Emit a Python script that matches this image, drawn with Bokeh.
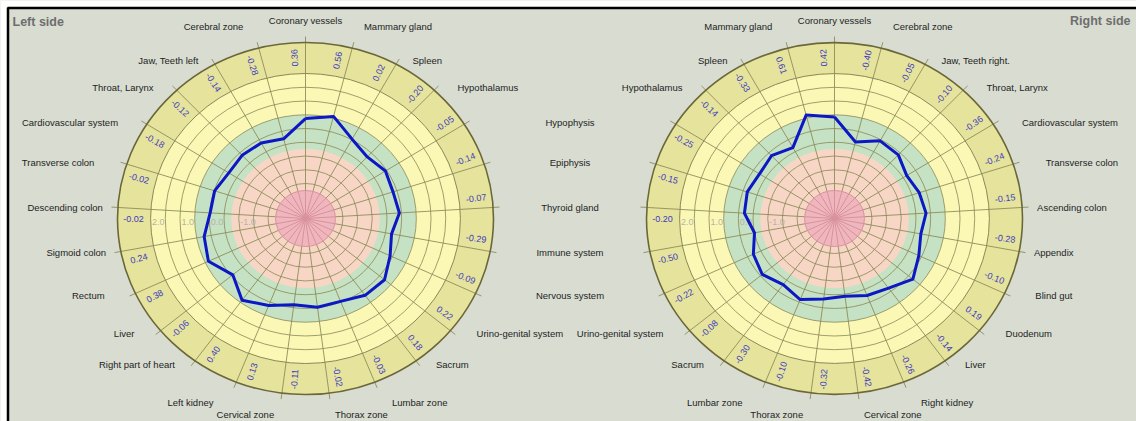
import numpy as np
from bokeh.plotting import figure
from bokeh.models import Range1d
from bokeh.embed import file_html
from bokeh.resources import INLINE
from bokeh.core.properties import value

# ---------------- data ----------------
left_organs = ["Coronary vessels", "Mammary gland", "Spleen", "Hypothalamus", "Hypophysis",
               "Epiphysis", "Thyroid gland", "Immune system", "Nervous system",
               "Urino-genital system", "Sacrum", "Lumbar zone", "Thorax zone", "Cervical zone",
               "Left kidney", "Right part of heart", "Liver", "Rectum", "Sigmoid colon",
               "Descending colon", "Transverse colon", "Cardiovascular system",
               "Throat, Larynx", "Jaw, Teeth left", "Cerebral zone"]
left_values = [0.36, 0.56, 0.02, -0.20, -0.05, -0.14, -0.07, -0.29, -0.09, 0.22, 0.18, -0.03,
               -0.02, -0.11, 0.13, 0.40, -0.06, 0.38, 0.24, -0.02, -0.02, -0.18, -0.12, -0.14,
               -0.28]

right_organs = ["Coronary vessels", "Cerebral zone", "Jaw, Teeth right.", "Throat, Larynx",
                "Cardiovascular system", "Transverse colon", "Ascending colon", "Appendix",
                "Blind gut", "Duodenum", "Liver", "Right kidney", "Cervical zone", "Thorax zone",
                "Lumbar zone", "Sacrum", "Urino-genital system", "Nervous system",
                "Immune system", "Thyroid gland", "Epiphysis", "Hypophysis", "Hypothalamus",
                "Spleen", "Mammary gland"]
right_values = [0.42, -0.40, -0.05, -0.10, -0.36, -0.24, -0.15, -0.28, -0.10, 0.19, -0.14,
                -0.26, -0.42, -0.32, -0.10, -0.30, -0.08, -0.22, -0.50, -0.20, -0.15, -0.25,
                -0.14, -0.33, 0.61]

shared_organs = ["Hypophysis", "Epiphysis", "Thyroid gland", "Immune system", "Nervous system"]
scale_ticks = [2.0, 1.0, 0.0, -1.0]
grid_levels = [-2.0, -1.5, -1.0, -0.5, 0.0, 0.5, 1.0, 1.5]
band_level = 2.0

# ---------------- layout / style ----------------
W, H = 1136, 421
CY = H - 218
CX_L, CX_R = 305, 834
KX = 188.0 / 176.0
R_OUT = 176.0
R_TEXT = 161.0
R_CORE = 28.0
R_SALMON = 69.5


def rv(v):
    return 90.0 + 27.5 * v


BG = "#d8dcd1"
BAND = "#e6e39c"
PALE = "#fbf8b6"
GREEN = "#c6e2c4"
SALMON = "#f8d6c6"
PINK = "#f0b6be"
GRID = "#8a8856"
PINK_GRID = "#d8929c"
BLUE = "#0c18c4"
VAL_COL = "#3c3cc0"
FONT = value("Liberation Sans")

p = figure(width=W, height=H, output_backend="svg", toolbar_location=None, title=None,
           x_range=Range1d(0, W), y_range=Range1d(0, H),
           x_axis_location=None, y_axis_location=None, min_border=0)
p.grid.visible = False
p.background_fill_color = BG
p.border_fill_color = "white"
p.outline_line_color = None

# white page margin and black frame (top / left)
p.quad(left=[0, 0], right=[7, W], bottom=[0, H - 7], top=[H, H], fill_color="white",
       line_color=None)
p.segment(x0=[7, 7.5], y0=[H - 7.5, 0], x1=[W, 7.5], y1=[H - 7.5, H - 7],
          line_color="black", line_width=2.5)


def label_anchor(cx, a):
    s, c = np.sin(a), np.cos(a)
    if abs(s) > 0.9:
        ry = 198.0
        rx = 235.0 if c > 0 else 250.0
    elif abs(s) < 0.25:
        ry, rx = 180.0, 203.0
    else:
        ry, rx = 180.0, 222.0
    if abs(c) < 0.02:
        return cx, CY + ry * s, "center"
    return cx + rx * c, CY + ry * s, ("left" if c > 0 else "right")


def ell(cx, r, **kw):
    p.ellipse(x=cx, y=CY, width=2 * r * KX, height=2 * r, **kw)


def draw_chart(cx, organs, vals):
    n = len(organs)
    step = 360.0 / n
    th = np.radians([90.0 - i * step for i in range(n)])
    r_band = rv(band_level)
    # zones
    for r, col in [(R_OUT, BAND), (r_band, PALE), (rv(0.5), GREEN), (R_SALMON, SALMON),
                   (R_CORE, PINK)]:
        ell(cx, r, fill_color=col, line_color=None)
    # grid circles
    for lv in grid_levels:
        ell(cx, rv(lv), fill_color=None, line_color=GRID, line_width=1, line_alpha=0.8)
    ell(cx, r_band, fill_color=None, line_color=GRID, line_width=1)
    # spokes: olive outside the pink core, pink inside it
    re = R_OUT + 6
    p.segment(x0=list(cx + R_CORE * KX * np.cos(th)), y0=list(CY + R_CORE * np.sin(th)),
              x1=list(cx + re * KX * np.cos(th)), y1=list(CY + re * np.sin(th)),
              line_color=GRID, line_width=1, line_alpha=0.85)
    p.segment(x0=[cx] * n, y0=[CY] * n, x1=list(cx + R_CORE * KX * np.cos(th)),
              y1=list(CY + R_CORE * np.sin(th)), line_color=PINK_GRID, line_width=1)
    ell(cx, R_CORE, fill_color=None, line_color=PINK_GRID, line_width=1)
    ell(cx, R_OUT, fill_color=None, line_color="#6a6838", line_width=1.6)
    # scale labels (just inside each circle, left of centre)
    tr = [rv(v) for v in scale_ticks]
    p.text(x=[cx - r * KX + 1.5 for r in tr], y=[CY - 3] * len(tr),
           text=["%.1f" % v for v in scale_ticks],
           text_font=FONT, text_font_size="9px", text_color="#b4b4a4",
           text_align="left", text_baseline="middle")
    # profile polygon from the values
    rp = np.array([rv(v) for v in vals])
    xs = list(cx + rp * KX * np.cos(th)) + [cx + rp[0] * KX * np.cos(th[0])]
    ys = list(CY + rp * np.sin(th)) + [CY + rp[0] * np.sin(th[0])]
    p.line(xs, ys, line_color=BLUE, line_width=3, line_join="round")
    # values in band (orientation decided by the spoke's side)
    ta = th + np.radians(3.6)
    tx = cx + R_TEXT * KX * np.cos(ta)
    ty = CY + R_TEXT * np.sin(ta)
    rot = [a if np.cos(s) >= -1e-9 else a + np.pi for a, s in zip(ta, th)]
    p.text(x=list(tx), y=list(ty), text=["%.2f" % v for v in vals], angle=rot,
           text_font=FONT, text_font_size="9px", text_color=VAL_COL,
           text_align="center", text_baseline="middle")
    # organ labels
    lx, ly, lt, la = [], [], [], []
    for name, a in zip(organs, th):
        if name in shared_organs:
            continue
        x, y, al = label_anchor(cx, a)
        lx.append(x); ly.append(y); lt.append(name); la.append(al)
    for al in ["left", "right", "center"]:
        idx = [i for i in range(len(lt)) if la[i] == al]
        p.text(x=[lx[i] for i in idx], y=[ly[i] for i in idx], text=[lt[i] for i in idx],
               text_font=FONT, text_font_size="9.5px", text_color="#1e1e1e",
               text_align=al, text_baseline="middle")
    return th


thL = draw_chart(CX_L, left_organs, left_values)
thR = draw_chart(CX_R, right_organs, right_values)

# shared labels in the middle
sx, sy = [], []
for name in shared_organs:
    a = thL[left_organs.index(name)]
    sx.append((CX_L + CX_R) / 2.0)
    sy.append(CY + 180.0 * np.sin(a))
p.text(x=sx, y=sy, text=shared_organs, text_font=FONT, text_font_size="9.5px",
       text_color="#1e1e1e", text_align="center", text_baseline="middle")

# titles
p.text(x=[12], y=[H - 21], text=["Left side"], text_font=FONT, text_font_size="12.5px",
       text_font_style="bold", text_color="#6e6e6e", text_align="left", text_baseline="middle")
p.text(x=[W - 6], y=[H - 20], text=["Right side"], text_font=FONT,
       text_font_size="12.5px", text_font_style="bold", text_color="#6e6e6e",
       text_align="right", text_baseline="middle")

open("out.html", "w").write(file_html(p, INLINE))
